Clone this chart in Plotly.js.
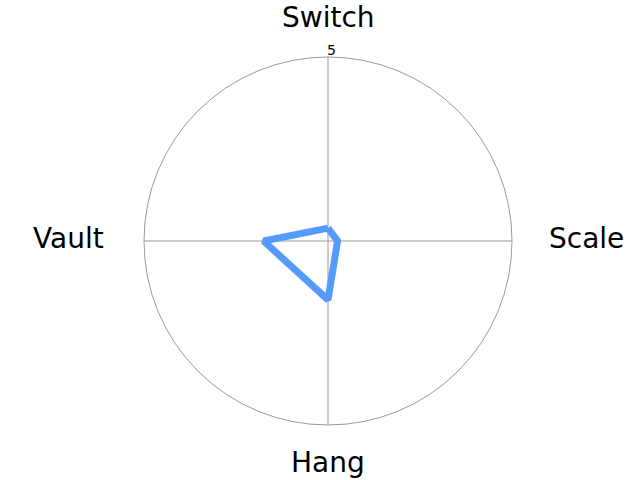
<!DOCTYPE html>
<html>
<head>
<meta charset="utf-8">
<script src="https://cdn.plot.ly/plotly-3.0.1.min.js"></script>
<style>html,body{margin:0;padding:0;background:#fff}</style>
</head>
<body>
<div id="chart" style="width:640px;height:480px"></div>
<script>
const categories = ["Switch", "Scale", "Hang", "Vault"];
const values = [0.35, 0.26, 1.6, 1.75];
const radialTicks = [5];

const data = [{
  type: "scatterpolar",
  r: values.concat([values[0]]),
  theta: categories.concat([categories[0]]),
  mode: "lines",
  line: {color: "#559BFF", width: 7},
  hoverinfo: "none"
}];

// label placement (paper coords) for each category, clockwise from top
const labelPos = [
  {x: 0.5, y: 1.107},
  {x: 1.022, y: 0.507},
  {x: 0.5, y: -0.103},
  {x: -0.023, y: 0.507}
];
const annotations = categories.map((c, i) => ({
  text: c, xref: "paper", yref: "paper", x: labelPos[i].x, y: labelPos[i].y,
  xanchor: "center", yanchor: "middle", showarrow: false,
  font: {size: 28, color: "#000", family: "DejaVu Sans"}
}));
annotations.push({
  text: String(radialTicks[0]), xref: "paper", yref: "paper", x: 0.5075, y: 1.02,
  xanchor: "center", yanchor: "middle", showarrow: false,
  font: {size: 14, color: "#000", family: "DejaVu Sans"}
});

const layout = {
  width: 640, height: 480,
  margin: {l: 80, r: 64, t: 57, b: 55},
  showlegend: false,
  paper_bgcolor: "#fff",
  font: {family: "DejaVu Sans", color: "#000"},
  annotations: annotations,
  polar: {
    bgcolor: "#fff",
    radialaxis: {
      range: [0, 5], tickvals: radialTicks,
      angle: 90, showline: false, showgrid: false, ticks: "",
      showticklabels: false
    },
    angularaxis: {
      direction: "clockwise", rotation: 90,
      showticklabels: false,
      gridcolor: "#999", gridwidth: 1, linecolor: "#999", linewidth: 1,
      ticks: "", showline: true
    }
  }
};
Plotly.newPlot("chart", data, layout, {displayModeBar: false, staticPlot: true});
</script>
</body>
</html>
